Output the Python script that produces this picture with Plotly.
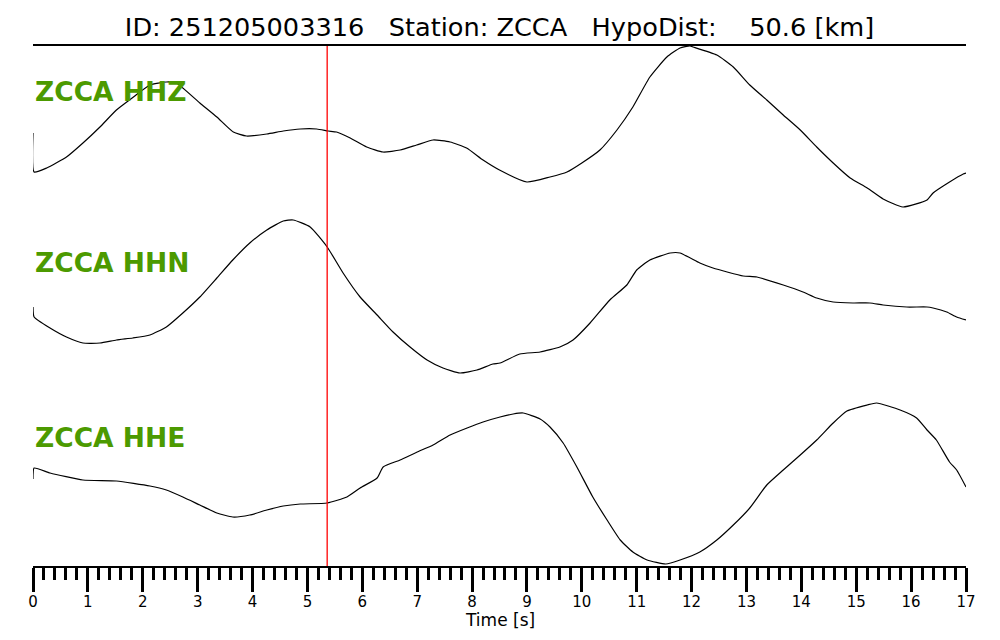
import plotly.graph_objects as go

# ---- data ----
STATION = "ZCCA"
EVENT_ID = "251205003316"
HYPO_DIST_KM = 50.6
P_PICK_S = 5.36

CHANNELS = ["HHZ", "HHN", "HHE"]

# time [s] and amplitude [arbitrary counts] per channel
hhz_t = [0, 0.02, 0.25, 0.61, 0.91, 1.22, 1.52, 1.83, 2.13, 2.43, 2.61, 3.04, 3.35,
         3.65, 3.89, 4.26, 4.56, 4.87, 5.17, 5.38, 5.53, 5.78, 6.08, 6.38, 6.69,
         6.99, 7.29, 7.6, 7.9, 8.2, 8.5, 9.0, 9.42, 9.73, 10.0, 10.33, 10.64,
         10.93, 11.24, 11.55, 11.79, 11.97, 12.03, 12.46, 12.76, 13.06, 13.37,
         13.67, 13.98, 14.28, 14.58, 14.89, 15.2, 15.49, 15.85, 16.29, 16.4,
         16.7, 16.95, 17.0]
hhz_a = [-6, -45, -41, -30, -16, 0, 17, 30, 42, 45, 44, 24, 10,
         -5, -9, -7, -4, -2, -2, -4, -5, -11, -20, -25, -23,
         -18, -13, -15, -21, -33, -43, -55, -50, -45, -36, -23, -3,
         20, 50, 70, 79, 81, 80, 72, 60, 42, 27,
         12, -3, -20, -36, -51, -61, -72, -80, -73, -66,
         -55, -47, -46]

hhn_t = [0, 0.02, 0.31, 0.61, 0.91, 1.22, 1.52, 1.82, 2.13, 2.43, 2.73, 3.04,
         3.35, 3.64, 3.95, 4.26, 4.56, 4.74, 5.05, 5.36, 5.65, 5.96, 6.27, 6.56,
         6.87, 7.18, 7.47, 7.78, 8.09, 8.38, 8.51, 8.87, 9.24, 9.6, 9.84, 10.15,
         10.51, 10.82, 11.0, 11.24, 11.61, 11.79, 12.15, 12.39, 12.94, 13.19,
         13.67, 14.03, 14.28, 14.58, 14.94, 15.25, 15.49, 15.92, 16.29, 16.4,
         16.65, 16.83, 17.0]
hhn_a = [-11, -21, -32, -41, -47, -47, -44, -42, -39, -31, -17, -1,
         18, 36, 53, 66, 75, 76, 69, 49, 23, -1, -19, -36,
         -51, -64, -72, -77, -74, -68, -67, -58, -56, -51, -44, -27,
         -4, 11, 26, 36, 43, 43, 33, 28, 20, 19,
         11, 4, -2, -6, -7, -7, -9, -11, -11, -12,
         -16, -21, -24]

hhe_t = [0, 0.02, 0.31, 0.91, 1.52, 2.13, 2.43, 2.73, 3.04, 3.35, 3.64, 3.95,
         4.26, 4.56, 4.87, 5.36, 5.72, 5.96, 6.27, 6.38, 6.69, 7.0, 7.29, 7.6,
         7.91, 8.2, 8.51, 8.75, 8.93, 9.24, 9.42, 9.66, 9.91, 10.2, 10.46, 10.7,
         10.93, 11.19, 11.53, 11.79, 12.15, 12.46, 12.76, 13.06, 13.37, 13.67,
         13.98, 14.28, 14.58, 14.83, 15.2, 15.37, 15.8, 16.1, 16.29, 16.46,
         16.7, 16.83, 17.0]
hhe_a = [5, 16, 11, 4, 3, -2, -6, -13, -21, -29, -33, -31,
         -26, -22, -20, -19, -13, -4, 6, 17, 24, 32, 39, 49,
         56, 62, 67, 70, 71, 65, 57, 41, 17, -13, -36, -56,
         -68, -76, -80, -76, -68, -56, -41, -24, -1, 14,
         29, 44, 61, 73, 79, 81, 74, 66, 54, 44,
         22, 14, -3]

TIMES = [hhz_t, hhn_t, hhe_t]
AMPS = [hhz_a, hhn_a, hhe_a]

# vertical position of each trace on the shared axis
OFFSETS = [-127, -296, -484]
LABEL_Y = [0.913, 0.583, 0.247]
LABEL_COLOR = "#4c9a00"
FONT = "DejaVu Sans"

fig = go.Figure()
for t, a, off in zip(TIMES, AMPS, OFFSETS):
    fig.add_trace(
        go.Scatter(
            x=t,
            y=[v + off for v in a],
            mode="lines",
            line=dict(color="black", width=1.2, shape="spline", smoothing=0.5),
            showlegend=False,
        )
    )

for ch, ly in zip(CHANNELS, LABEL_Y):
    fig.add_annotation(
        text=f"<b>{STATION} {ch}</b>",
        x=0, xref="paper", xanchor="left",
        y=ly, yref="paper", yanchor="middle",
        showarrow=False,
        font=dict(family=FONT, size=26.5, color=LABEL_COLOR),
    )

fig.add_annotation(
    text="Time [s]",
    x=0.5, xref="paper", xanchor="center",
    y=0, yref="paper", yanchor="top", yshift=-42,
    showarrow=False,
    font=dict(family=FONT, size=17, color="black"),
)

# P-arrival marker
fig.add_shape(
    type="line", xref="x", yref="paper",
    x0=P_PICK_S, x1=P_PICK_S, y0=0, y1=1,
    line=dict(color="red", width=1.3),
)

sp = "\u00a0" * 3
title = f"ID: {EVENT_ID}{sp}Station: {STATION}{sp}HypoDist:{'\u00a0' * 4}{HYPO_DIST_KM} [km]"

fig.update_layout(
    width=1000,
    height=640,
    margin=dict(l=25, r=42, t=38, b=82),
    plot_bgcolor="white",
    paper_bgcolor="white",
    font=dict(family=FONT, color="black"),
    title=dict(
        text=title, x=0.5, xref="paper", xanchor="center", y=0.970, yanchor="middle",
        font=dict(family=FONT, size=25.6, color="black"),
    ),
    xaxis=dict(
        range=[0, 17],
        tickmode="linear", tick0=0, dtick=1,
        ticks="outside", ticklen=24, tickwidth=3, tickcolor="black",
        minor=dict(ticks="outside", ticklen=12, tickwidth=3, tickcolor="black",
                   dtick=0.2, tick0=0),
        showline=True, linecolor="black", linewidth=1.5, mirror=True,
        showgrid=False, zeroline=False,
        tickfont=dict(family=FONT, size=15),
        ticklabelstandoff=-3,
    ),
    yaxis=dict(
        range=[-566, -46], visible=False, showgrid=False, zeroline=False,
    ),
)

fig.write_html("out.html")
